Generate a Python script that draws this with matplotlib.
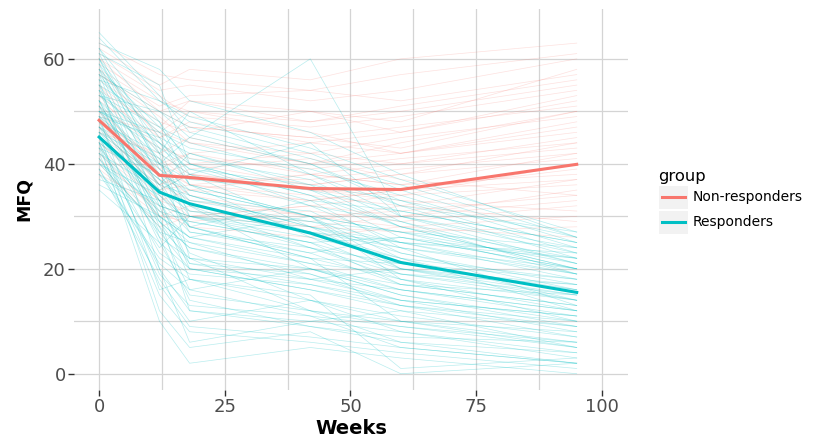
import matplotlib
matplotlib.use("Agg")
import matplotlib.pyplot as plt
from matplotlib.lines import Line2D
from matplotlib.patches import Rectangle

weeks = [0, 12, 18, 42, 60, 95]

responders = [
    [58, 40, 35, 30, 22, 12], [52, 30, 25, 18, 14, 8], [47, 35, 38, 28, 20, 15],
    [60, 45, 42, 35, 28, 20], [44, 20, 12, 10, 8, 4], [50, 38, 30, 25, 26, 22],
    [40, 28, 22, 20, 15, 10], [55, 48, 40, 32, 25, 18], [62, 42, 50, 38, 30, 24],
    [38, 22, 18, 14, 10, 6], [48, 25, 15, 12, 6, 2], [53, 44, 36, 30, 20, 16],
    [45, 32, 30, 24, 18, 12], [57, 50, 45, 40, 33, 26], [42, 15, 8, 6, 4, 1],
    [49, 36, 28, 33, 24, 19], [64, 52, 48, 42, 35, 25], [36, 30, 26, 22, 18, 14],
    [51, 27, 20, 16, 12, 9], [46, 40, 32, 20, 16, 11], [59, 35, 28, 22, 10, 5],
    [43, 38, 35, 30, 27, 21], [54, 42, 22, 18, 20, 17], [41, 24, 30, 26, 22, 14],
    [56, 46, 38, 44, 30, 23], [39, 18, 10, 14, 8, 3], [50, 33, 27, 24, 21, 18],
    [61, 55, 40, 34, 26, 20], [47, 29, 24, 19, 13, 7], [52, 41, 34, 28, 24, 13],
    [44, 36, 42, 36, 28, 22], [58, 32, 18, 12, 9, 6], [35, 25, 20, 18, 16, 12],
    [49, 45, 36, 26, 19, 15], [55, 38, 31, 29, 27, 24], [46, 12, 5, 8, 0, 2],
    [53, 47, 44, 38, 32, 27], [40, 34, 28, 22, 21, 16], [57, 30, 26, 30, 18, 10],
    [48, 42, 38, 32, 29, 19], [63, 58, 52, 46, 38, 26], [45, 26, 22, 12, 10, 8],
    [51, 39, 33, 31, 23, 17], [37, 33, 21, 17, 14, 11], [60, 40, 45, 60, 30, 21],
    [42, 31, 29, 25, 20, 14], [54, 28, 16, 20, 15, 9], [50, 44, 40, 34, 28, 20],
    [44, 10, 2, 5, 3, 0], [56, 20, 6, 10, 12, 5], [49, 16, 18, 15, 1, 3],
    [43, 30, 12, 9, 7, 6],
    [52, 36, 34, 27, 25, 23], [47, 41, 28, 23, 17, 13], [59, 44, 39, 33, 31, 25],
    [41, 27, 25, 21, 19, 17], [54, 33, 23, 14, 11, 7], [46, 37, 33, 29, 25, 22],
    [62, 48, 36, 30, 27, 19], [39, 21, 16, 11, 5, 2], [50, 46, 43, 39, 34, 24],
    [57, 43, 30, 27, 22, 18], [44, 23, 19, 17, 13, 10], [53, 50, 47, 41, 36, 26],
    [48, 31, 26, 21, 16, 12], [60, 37, 32, 24, 19, 14], [42, 35, 31, 27, 24, 20],
    [55, 26, 14, 9, 6, 4], [49, 40, 37, 35, 31, 25], [45, 19, 13, 11, 9, 5],
    [58, 47, 41, 37, 29, 21], [51, 34, 29, 25, 17, 13], [38, 29, 24, 20, 17, 15],
    [56, 52, 49, 43, 37, 27], [46, 33, 20, 16, 13, 9], [61, 39, 34, 28, 23, 16],
    [43, 17, 9, 7, 5, 2], [50, 43, 39, 36, 33, 23], [65, 53, 46, 40, 32, 22],
    [47, 37, 27, 23, 26, 20], [52, 29, 21, 19, 14, 11], [40, 32, 30, 28, 25, 19],
]

non_responders = [
    [55, 42, 45, 40, 42, 48], [48, 36, 38, 35, 34, 40], [60, 50, 52, 48, 50, 55],
    [42, 30, 32, 28, 30, 35], [50, 40, 36, 38, 36, 42], [58, 45, 48, 44, 46, 52],
    [45, 38, 34, 30, 28, 30], [62, 55, 58, 56, 60, 63], [40, 28, 30, 32, 30, 33],
    [52, 44, 40, 42, 40, 45], [47, 35, 36, 34, 32, 37], [56, 48, 46, 50, 48, 58],
    [38, 32, 30, 28, 27, 28], [53, 40, 42, 38, 36, 38], [49, 46, 44, 40, 44, 50],
    [44, 34, 30, 32, 34, 36], [59, 52, 50, 46, 42, 46], [51, 38, 40, 36, 38, 44],
    [46, 42, 38, 35, 33, 31], [54, 47, 52, 50, 46, 53], [43, 33, 35, 38, 40, 43],
    [57, 49, 44, 42, 45, 49], [50, 36, 33, 30, 31, 34], [61, 54, 55, 52, 54, 60],
    [47, 39, 42, 44, 42, 47], [41, 31, 28, 26, 28, 26],
    [53, 45, 47, 45, 47, 51], [46, 37, 35, 33, 35, 39], [58, 51, 53, 54, 52, 57],
    [44, 35, 38, 36, 38, 41], [51, 43, 41, 39, 41, 44], [39, 30, 29, 31, 29, 32],
    [60, 53, 49, 47, 49, 54], [48, 41, 37, 37, 39, 42], [55, 46, 50, 48, 51, 56],
    [42, 33, 31, 29, 32, 29], [57, 50, 47, 45, 43, 50], [49, 39, 36, 33, 35, 37],
    [63, 57, 56, 54, 57, 61], [45, 36, 39, 41, 37, 34],
]

mean_non_responders = [48.3, 37.8, 37.4, 35.3, 35.1, 39.9]
mean_responders = [45.1, 34.6, 32.4, 26.8, 21.2, 15.5]

groups = ["Non-responders", "Responders"]
colors = {"Non-responders": "#F8766D", "Responders": "#00BFC4"}

x_ticks = [0, 25, 50, 75, 100]
y_ticks = [0, 20, 40, 60]

plt.rcParams['font.family'] = ['DejaVu Sans']

W, H = 813, 438
fig = plt.figure(figsize=(W / 100, H / 100), dpi=100)
left, right, top, bottom = 74, 628, 9, 390
ax = fig.add_axes([left / W, 1 - bottom / H, (right - left) / W, (bottom - top) / H])

for traj in non_responders:
    ax.plot(weeks, traj, color=colors["Non-responders"], lw=0.5, alpha=0.22, zorder=2)
for traj in responders:
    ax.plot(weeks, traj, color=colors["Responders"], lw=0.5, alpha=0.28, zorder=2)

ax.plot(weeks, mean_non_responders, color=colors["Non-responders"], lw=2.2, zorder=4)
ax.plot(weeks, mean_responders, color=colors["Responders"], lw=2.2, zorder=4)

ax.set_xlim(-5, 105.2)
ax.set_ylim(-3.1, 69.5)
ax.set_xticks(x_ticks)
ax.set_yticks(y_ticks)
ax.set_xticks([12.5, 37.5, 62.5, 87.5], minor=True)
ax.set_yticks([10, 30, 50], minor=True)
ax.grid(True, which='both', color='#d4d4d4', lw=0.9, zorder=0)
ax.set_axisbelow(True)
for s in ax.spines.values():
    s.set_visible(False)
ax.tick_params(which='major', length=4, width=1, color='#333333', labelsize=13,
               labelcolor='#4d4d4d', pad=2)
ax.tick_params(which='minor', length=0)
ax.set_facecolor('white')

fig.text((left + right) / 2 / W, 1 - 428.5 / H, "Weeks", fontsize=14,
         fontweight='bold', color='black', ha='center', va='center')
fig.text(23.5 / W, 1 - (top + bottom) / 2 / H, "MFQ", fontsize=12.5,
         fontweight='bold', color='black', ha='center', va='center', rotation=90)

# legend (ggplot-style with grey key backgrounds)
fig.text(658 / W, 1 - 176 / H, "group", fontsize=11.8, va='center', ha='left')
for i, g in enumerate(groups):
    yc = 197 + 25 * i
    fig.patches.append(Rectangle((659 / W, 1 - (yc + 11.5) / H), 29 / W, 23 / H,
                                 transform=fig.transFigure, facecolor='#f2f2f2',
                                 edgecolor='none'))
    fig.add_artist(Line2D([662 / W, 685 / W], [1 - yc / H, 1 - yc / H],
                          transform=fig.transFigure, color=colors[g], lw=2.2))
    fig.text(693 / W, 1 - yc / H, g, fontsize=10, va='center', ha='left')

fig.savefig("out.png", dpi=100, facecolor='white')
